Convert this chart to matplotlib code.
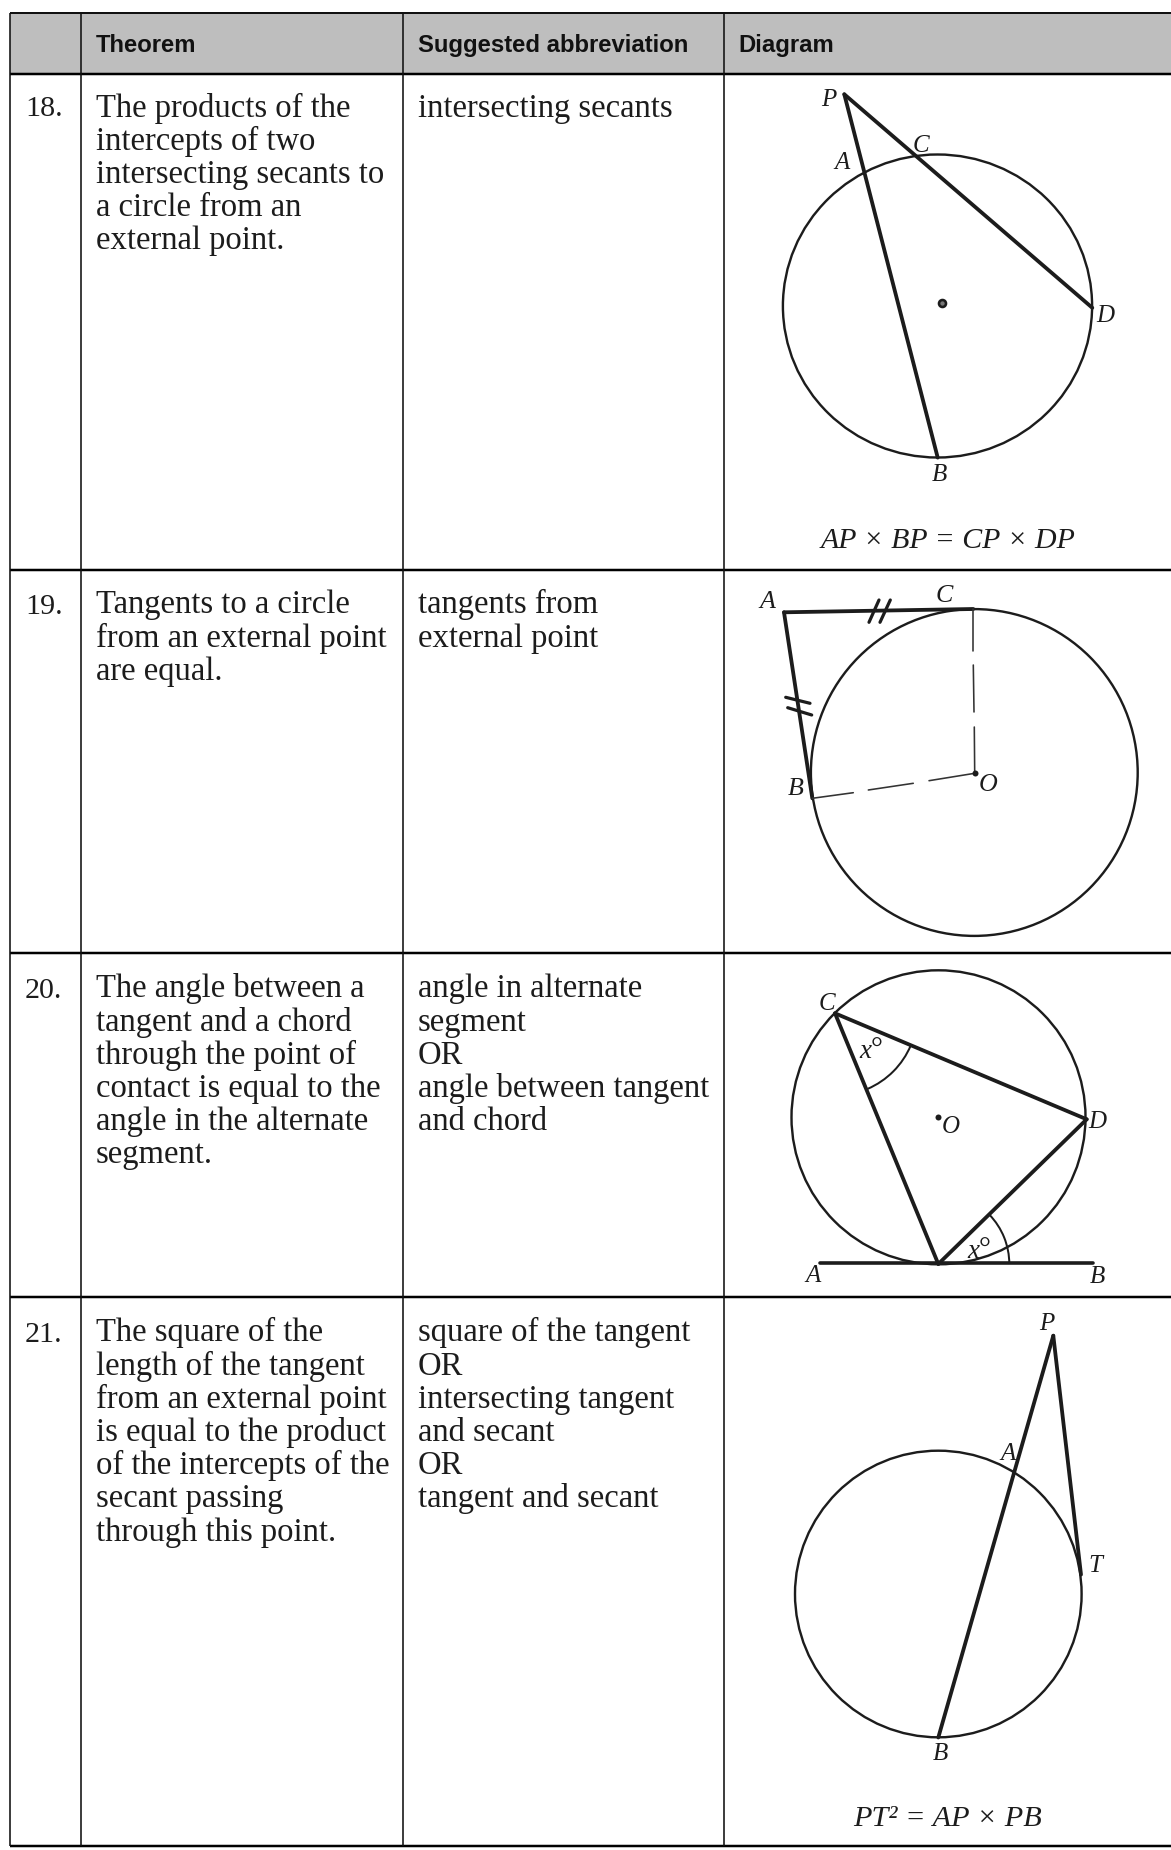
import numpy as np
import matplotlib
matplotlib.use("Agg")
import matplotlib.pyplot as plt
from matplotlib.patches import Rectangle, Arc, Circle, Ellipse

W, H = 1171, 1850
INK = "#1c1c1c"
SERIF = "Liberation Serif"
BODY_PX = 32.6
NUM_PX = 30
STEP = 33.2

headers = ["Theorem", "Suggested abbreviation", "Diagram"]
numbers = ["18.", "19.", "20.", "21."]
theorems = [
    ["The products of the", "intercepts of two", "intersecting secants to", "a circle from an", "external point."],
    ["Tangents to a circle", "from an external point", "are equal."],
    ["The angle between a", "tangent and a chord", "through the point of", "contact is equal to the", "angle in the alternate", "segment."],
    ["The square of the", "length of the tangent", "from an external point", "is equal to the product", "of the intercepts of the", "secant passing", "through this point."],
]
abbrevs = [
    ["intersecting secants"],
    ["tangents from", "external point"],
    ["angle in alternate", "segment", "OR", "angle between tangent", "and chord"],
    ["square of the tangent", "OR", "intersecting tangent", "and secant", "OR", "tangent and secant"],
]
row_first_baseline = [116.5, 613.5, 997.5, 1341.5]
col_x = [10, 81, 403, 724]
row_y = [74, 570, 953, 1297, 1846]
top_y = 12.5

# Diagram 18
c18, rx18, ry18 = (937.5, 306), 154.6, 151.5
P18, A18, B18, C18, D18 = (844.3, 94.3), (865, 172), (937.7, 457.6), (915.7, 156), (1092.3, 307.8)
dot18 = (941.7, 302.6)
labels18 = [("P", 829, 98), ("C", 920.7, 144.3), ("A", 841.7, 161.7), ("D", 1105.7, 314.5), ("B", 939, 473.5)]
# Diagram 19
c19, r19 = (974.3, 772.5), 163.4
A19, B19, C19, O19 = (784, 612.3), (812.3, 798.3), (973.3, 609), (974.7, 773.3)
dash_CO = [((973.3, 609), (973.3, 651)), ((973.3, 665), (974, 712)), ((974.3, 727), (974.7, 773.3))]
dash_BO = [((812.3, 798.3), (853.3, 792.7)), ((868.3, 790), (913.3, 783.3)), ((929, 780.7), (974.7, 773.3))]
ticks19 = [((869, 622.3), (879, 600)), ((880, 622.3), (890.3, 600)),
           ((785.7, 697.3), (810, 703.3)), ((787.7, 707.7), (811.7, 715))]
labels19 = [("A", 767, 600), ("C", 944.3, 595), ("B", 795.7, 787.7), ("O", 988.3, 783.3)]
# Diagram 20
c20, r20 = (938.5, 1117.3), 147
C20, D20, T20, A20, B20 = (835, 1013.3), (1086.7, 1119.3), (938.3, 1264), (820, 1263.3), (1092.7, 1263.3)
O20 = (938.3, 1117.3)
arc_C = (82.3, 23, 66.7)
arc_T = (71, -44, 0)
labels20 = [("C", 827, 1002.7), ("D", 1097.3, 1121), ("O", 951, 1125.7), ("A", 813.3, 1275), ("B", 1097.7, 1275.7)]
x_labels = [(865, 1051.7), (973.3, 1251.7)]
deg_marks = [(877, 1044), (985, 1244)]
# Diagram 21
c21, r21 = (938.3, 1594), 143.3
P21, T21, B21 = (1053.3, 1335.7), (1081, 1574.6), (938.3, 1737.5)
labels21 = [("P", 1046.7, 1322.6), ("A", 1007.7, 1452.5), ("T", 1095, 1564.7), ("B", 940, 1752.7)]
formula18 = "AP × BP = CP × DP"
formula21 = "PT² = AP × PB"
formula_pos = [(947.7, 541), (947.7, 1819)]

fig = plt.figure(figsize=(W / 100, H / 100), dpi=100, facecolor="white")
ax = fig.add_axes([0, 0, 1, 1])
ax.set_xlim(0, W)
ax.set_ylim(H, 0)
ax.axis("off")

def px(p):
    return p * 0.72

# Table
ax.add_patch(Rectangle((col_x[0], top_y), W - col_x[0], row_y[0] - top_y, fc="#bebebe", ec="none", zorder=0))
ax.plot([col_x[0], W], [top_y, top_y], color="#111111", lw=px(2), solid_capstyle="butt")
for y in row_y:
    ax.plot([col_x[0], W], [y, y], color="black", lw=px(2.5), solid_capstyle="butt")
for x in col_x:
    ax.plot([x, x], [top_y, row_y[-1]], color="#111111", lw=px(1.6), solid_capstyle="butt")

hdr_x = [95.5, 418, 738]
for x, t in zip(hdr_x, headers):
    ax.text(x, 52, t, family="Liberation Sans", weight="bold", fontsize=px(23.9), color="#111111", va="baseline")

for i in range(4):
    y0 = row_first_baseline[i]
    ax.text(25, y0, numbers[i], family=SERIF, fontsize=px(NUM_PX), color=INK, va="baseline")
    for j, line in enumerate(theorems[i]):
        ax.text(95.5, y0 + j * STEP, line, family=SERIF, fontsize=px(BODY_PX), color=INK, va="baseline")
    for j, line in enumerate(abbrevs[i]):
        ax.text(418, y0 + j * STEP, line, family=SERIF, fontsize=px(BODY_PX), color=INK, va="baseline")

def circle(c, r, lw=2.4):
    ax.add_patch(Circle(c, r, fc="none", ec=INK, lw=px(lw)))

def seg(a, b, lw=3.2, color=INK):
    ax.plot([a[0], b[0]], [a[1], b[1]], color=color, lw=px(lw), solid_capstyle="round")

def dot(p, r=4):
    ax.plot([p[0]], [p[1]], "o", ms=px(r * 2), color=INK, mec="none")

def lab(L, size=25):
    for s, x, y in L:
        ax.text(x, y + 1.5, s, family=SERIF, style="italic", fontsize=px(size), color=INK, ha="center", va="center")

# 18
ax.add_patch(Ellipse(c18, 2 * rx18, 2 * ry18, fc="none", ec=INK, lw=px(2.4)))
seg(P18, B18, 3.8)
seg(P18, D18, 3.8)
ax.plot([dot18[0]], [dot18[1]], "o", ms=px(7), mfc="#777777", mec=INK, mew=px(2.6))
lab(labels18)
ax.text(*formula_pos[0], formula18, family=SERIF, style="italic", fontsize=px(29.9), color=INK, ha="center", va="center")

# 19
circle(c19, r19)
seg(A19, C19, 3.8)
seg(A19, B19, 3.8)
for a, b in dash_CO + dash_BO:
    seg(a, b, 1.6, "#333333")
for a, b in ticks19:
    seg(a, b, 3.2)
dot(O19, 3)
lab(labels19, 26)

# 20
circle(c20, r20)
seg(C20, D20, 3.8)
seg(C20, T20, 3.8)
seg(D20, T20, 3.8)
seg(A20, B20, 3.6)
dot(O20, 3)
ax.add_patch(Arc(C20, 2 * arc_C[0], 2 * arc_C[0], theta1=arc_C[1], theta2=arc_C[2], color=INK, lw=px(2)))
ax.add_patch(Arc(T20, 2 * arc_T[0], 2 * arc_T[0], theta1=arc_T[1], theta2=arc_T[2], color=INK, lw=px(2)))
lab(labels20, 25)
for x, y in x_labels:
    ax.text(x, y, "x", family=SERIF, style="italic", fontsize=px(27), color=INK, ha="center", va="center")
for x, y in deg_marks:
    ax.text(x, y + 7, "°", family=SERIF, fontsize=px(30), color=INK, ha="center", va="center")

# 21
circle(c21, r21)
seg(P21, B21, 3.8)
seg(P21, T21, 3.8)
lab(labels21)
ax.text(*formula_pos[1], formula21, family=SERIF, style="italic", fontsize=px(30.2), color=INK, ha="center", va="center")

fig.savefig("out.png", dpi=100, facecolor="white")
